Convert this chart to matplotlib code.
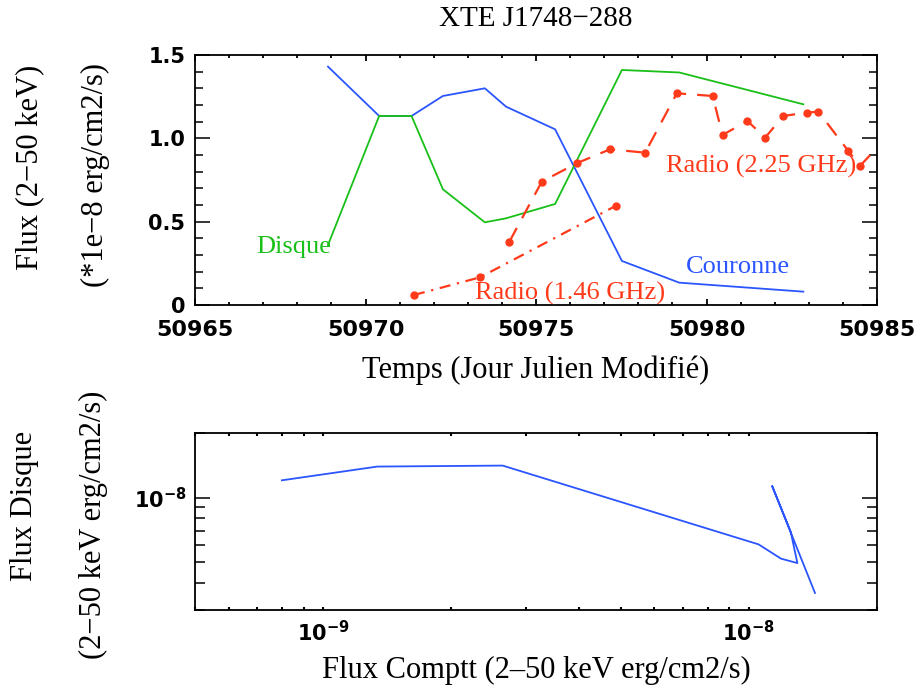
import numpy as np
import matplotlib
matplotlib.use('Agg')
import matplotlib.pyplot as plt
from matplotlib.ticker import MultipleLocator, FixedLocator, NullFormatter, LogLocator

# ---- data ----
# X-ray fluxes (2-50 keV, units of 1e-8 erg/cm2/s) vs MJD
t_x = [50968.9, 50970.4, 50971.35, 50972.27, 50973.5, 50974.12, 50975.56, 50977.52, 50979.2, 50982.84]
couronne = [1.43, 1.134, 1.134, 1.254, 1.30, 1.19, 1.054, 0.264, 0.134, 0.08]
disque = [0.36, 1.134, 1.134, 0.694, 0.496, 0.52, 0.606, 1.41, 1.395, 1.204]

# radio light curves (arbitrary scale on the same axis)
t_r225 = [50974.22, 50975.17, 50976.19, 50977.17, 50978.20, 50979.13, 50980.18, 50980.47,
          50981.20, 50981.72, 50982.25, 50982.94, 50983.28, 50984.16, 50984.50, 50985.4]
r225 = [0.38, 0.74, 0.85, 0.934, 0.914, 1.27, 1.254, 1.02,
        1.104, 1.004, 1.134, 1.154, 1.16, 0.924, 0.834, 1.03]
t_r146 = [50971.42, 50973.36, 50977.35]
r146 = [0.06, 0.166, 0.596]

ytick_vals = [0, 0.5, 1.0, 1.5]
ytick_labels = ['0', '0.5', '1.0', '1.5']
xtick_vals = [50965, 50970, 50975, 50980, 50985]

BLUE = '#2a55ff'
GREEN = '#19c019'
RED = '#ff3a1a'
SERIF = 'Liberation Serif'

fig = plt.figure(figsize=(9.19, 6.88), dpi=100)
ax1 = fig.add_axes([0.2122, 0.5567, 0.7421, 0.3634])
ax2 = fig.add_axes([0.2122, 0.1134, 0.7421, 0.2573])

# ---- TOP: light curves ----
ax1.plot(t_x, couronne, color=BLUE, lw=1.3)
ax1.plot(t_x, disque, color=GREEN, lw=1.3)
ax1.plot(t_r225, r225, color=RED, lw=1.6, ls=(0, (7, 5)), marker='o', ms=5)
ax1.plot(t_r146, r146, color=RED, lw=1.6, ls=(0, (5, 3, 1, 3)), marker='o', ms=5)
ax1.set_xlim(50965, 50985)
ax1.set_ylim(0, 1.5)
ax1.xaxis.set_major_locator(FixedLocator(xtick_vals))
ax1.xaxis.set_minor_locator(MultipleLocator(1))
ax1.yaxis.set_major_locator(FixedLocator(ytick_vals))
ax1.set_yticklabels(ytick_labels)
ax1.yaxis.set_minor_locator(MultipleLocator(0.1))
ax1.tick_params(axis='x', which='both', direction='in', top=True, pad=11, labelsize=16)
ax1.tick_params(axis='x', which='major', length=4, width=1.3)
ax1.tick_params(axis='x', which='minor', length=2.5, width=1.3)
ax1.tick_params(axis='y', which='both', direction='in', right=True, pad=7, labelsize=15)
ax1.tick_params(axis='y', which='major', length=11, width=1.1)
ax1.tick_params(axis='y', which='minor', length=6, width=1.1)

ax1.text(50966.8, 0.35, 'Disque', color=GREEN, family=SERIF, fontsize=19, va='center')
ax1.text(50979.4, 0.23, 'Couronne', color=BLUE, family=SERIF, fontsize=19, va='center')
ax1.text(50978.8, 0.83, 'Radio (2.25 GHz)', color=RED, family=SERIF, fontsize=19, va='center')
ax1.text(50973.2, 0.07, 'Radio (1.46 GHz)', color=RED, family=SERIF, fontsize=19, va='center')
ax1.set_xlabel('Temps (Jour Julien Modifié)', family=SERIF, fontsize=22, labelpad=11)
ax1.set_title('XTE J1748\u2212288', family=SERIF, fontsize=21, pad=21)

# ---- BOTTOM: disc flux vs Comptonised flux ----
ax2.plot(np.array(couronne) * 1e-8, np.array(disque) * 1e-8, color=BLUE, lw=1.3)
ax2.set_xscale('log')
ax2.set_yscale('log')
ax2.set_xlim(5e-10, 2e-8)
ax2.set_ylim(3e-9, 2e-8)
ax2.xaxis.set_major_locator(FixedLocator([1e-9, 1e-8]))
ax2.xaxis.set_minor_locator(LogLocator(base=10, subs=np.arange(2, 10)))
ax2.yaxis.set_major_locator(FixedLocator([1e-8]))
ax2.yaxis.set_minor_locator(LogLocator(base=10, subs=np.arange(2, 10)))
ax2.xaxis.set_minor_formatter(NullFormatter())
ax2.yaxis.set_minor_formatter(NullFormatter())
ax2.set_xticklabels([r'$\mathbf{10^{-9}}$', r'$\mathbf{10^{-8}}$'])
ax2.set_yticklabels([r'$\mathbf{10^{-8}}$'])
ax2.tick_params(axis='x', which='both', direction='in', top=True, pad=7, labelsize=15, length=2, width=1.5)
ax2.tick_params(axis='y', which='both', direction='in', right=True, pad=6, labelsize=15, width=1.1)
ax2.tick_params(axis='y', which='major', length=11)
ax2.tick_params(axis='y', which='minor', length=7)
ax2.set_xlabel('Flux Comptt (2\u201350 keV erg/cm2/s)', family=SERIF, fontsize=22, labelpad=8)

for ax in (ax1, ax2):
    for sp in ax.spines.values():
        sp.set_linewidth(1.3)
    for lab in ax.get_xticklabels() + ax.get_yticklabels():
        lab.set_fontfamily('DejaVu Sans')
        lab.set_fontweight('bold')

# y labels in two rotated lines, as in the original
fig.text(30 / 919, 1 - 167 / 688, 'Flux (2\u221250 keV)', family=SERIF, fontsize=22,
         rotation=90, ha='center', va='center')
fig.text(95 / 919, 1 - 175 / 688, '(*1e\u22128 erg/cm2/s)', family=SERIF, fontsize=22,
         rotation=90, ha='center', va='center')
fig.text(25 / 919, 1 - 506 / 688, 'Flux Disque', family=SERIF, fontsize=22,
         rotation=90, ha='center', va='center')
fig.text(93 / 919, 1 - 525 / 688, '(2\u221250 keV erg/cm2/s)', family=SERIF, fontsize=22,
         rotation=90, ha='center', va='center')

fig.savefig('out.png', dpi=100)
